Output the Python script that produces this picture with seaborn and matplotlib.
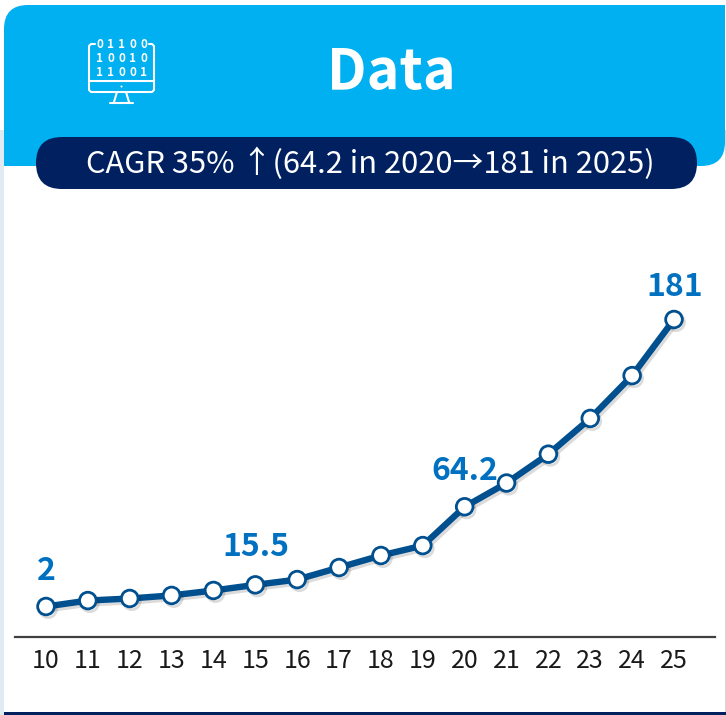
import matplotlib
matplotlib.use("Agg")
import matplotlib.pyplot as plt
import matplotlib.patheffects as pe
from matplotlib.patches import FancyBboxPatch, PathPatch, Rectangle, Circle
from matplotlib.path import Path
import pandas as pd
import seaborn as sns

years = ["10", "11", "12", "13", "14", "15", "16", "17", "18", "19", "20", "21", "22", "23", "24", "25"]
values = [2, 5.7, 7, 8.9, 12, 15.5, 18.8, 26.3, 33.8, 40, 64.2, 79, 97, 119.3, 146, 181]
callouts = {"10": "2", "15": "15.5", "20": "64.2", "25": "181"}
title = "Data"
subtitle = "CAGR 35% ↑(64.2 in 2020→181 in 2025)"
binary_rows = ["01100", "10010", "11001"]

sns.set_theme(style="white")
FONT = ["Noto Sans CJK KR", "DejaVu Sans"]
plt.rcParams["font.family"] = FONT

W, H = 726, 715
fig = plt.figure(figsize=(W / 100, H / 100), dpi=100, facecolor="white")

bg = fig.add_axes([0, 0, 1, 1], zorder=3)
bg.set_xlim(0, W)
bg.set_ylim(H, 0)
bg.axis("off")
bg.patch.set_alpha(0)

SKY = "#00b0f0"
NAVY = "#002060"

bg.add_patch(Rectangle((0, 130), 4, H - 130, fc="#dfeaf2", ec="none"))
bg.add_patch(Rectangle((725, 130), 1, H - 130, fc="#d5d5d5", ec="none"))

x0, x1, y0, y1, r = 4, 725, 5, 166, 24
verts = [(x0, y1), (x0, y0 + r), (x0, y0), (x0 + r, y0), (x1, y0), (x1, y1 - r), (x1, y1), (x1 - r, y1), (x0, y1)]
codes = [Path.MOVETO, Path.LINETO, Path.CURVE3, Path.CURVE3, Path.LINETO, Path.LINETO, Path.CURVE3, Path.CURVE3, Path.CLOSEPOLY]
bg.add_patch(PathPatch(Path(verts, codes), fc=SKY, ec="none"))

bg.add_patch(FancyBboxPatch((36 + 26, 137 + 26), 661 - 52, 0.01,
                            boxstyle="round,pad=26,rounding_size=26", fc=NAVY, ec="none",
                            mutation_aspect=1))
bg.add_patch(Rectangle((4, 712), 722, 3, fc=NAVY, ec="none"))

bg.text(391, 73, title, color="white", fontsize=40, fontweight="bold", ha="center", va="center")
bg.text(370, 164, subtitle, color="white", fontsize=22.2, ha="center", va="center")

# monitor icon
lw = 1.5
bg.plot([95, 91, 89, 89], [44, 44, 46, 50], color="white", lw=lw, solid_capstyle="round")
bg.plot([149, 152, 154, 154], [44, 44, 46, 50], color="white", lw=lw, solid_capstyle="round")
bg.plot([89, 89, 91, 152, 154, 154], [50, 90, 92, 92, 90, 50], color="white", lw=lw, solid_joinstyle="round")
bg.plot([89, 154], [81, 81], color="white", lw=lw)
bg.add_patch(Circle((121.5, 86.5), 1, fc="white", ec="none"))
bg.plot([117, 114], [92, 102], color="white", lw=lw)
bg.plot([126, 129], [92, 102], color="white", lw=lw)
bg.plot([110, 133], [103, 103], color="white", lw=lw)
for row, yy in zip(binary_rows, [44, 58, 72]):
    for k, ch in enumerate(row):
        bg.text(121.5 + (k - 2) * 11, yy, ch, color="white", fontsize=8.5, fontweight="bold",
                ha="center", va="center")

# chart axis: pixel span x 15..715, y 230..636
ax = fig.add_axes([15 / W, 1 - 636.5 / H, 700 / W, 406.5 / H], zorder=2)
ax.patch.set_alpha(0)
df = pd.DataFrame({"year": years, "value": values})
step = 41.87
ax.set_xlim(-(46 - 15) / step, 15 + (715 - 674) / step)
scale = 287 / 179
ax.set_ylim(2 - (636.5 - 606.5) / scale, 2 + (606.5 - 230) / scale)

shadow = [pe.SimpleLineShadow(offset=(1.5, -2), shadow_color="black", alpha=0.14), pe.Normal()]
sns.lineplot(data=df, x="year", y="value", ax=ax, color="#004f8f", lw=4.6, marker="o", markersize=12,
             markerfacecolor="white", markeredgecolor="#004f8f", markeredgewidth=2.0, path_effects=shadow,
             sort=False, clip_on=False)

label_offsets = {"10": (0, 19), "15": (1, 22), "20": (0, 20), "25": (1, 17)}
for yr, txt in callouts.items():
    i = years.index(yr)
    dx, dy = label_offsets[yr]
    ax.annotate(txt, (i, values[i]), xytext=(dx * .72, dy * .72), textcoords="offset points", ha="center",
                va="bottom", color="#0070c0", fontsize=23, fontweight="bold")

sns.despine(ax=ax, left=True)
ax.spines["bottom"].set_color("#404040")
ax.spines["bottom"].set_linewidth(1.6)
ax.set_xlabel("")
ax.set_ylabel("")
ax.set_yticks([])
ax.tick_params(axis="x", length=0, pad=8, labelsize=18, labelcolor="#1a1a1a")

fig.savefig("out.png", dpi=100)
